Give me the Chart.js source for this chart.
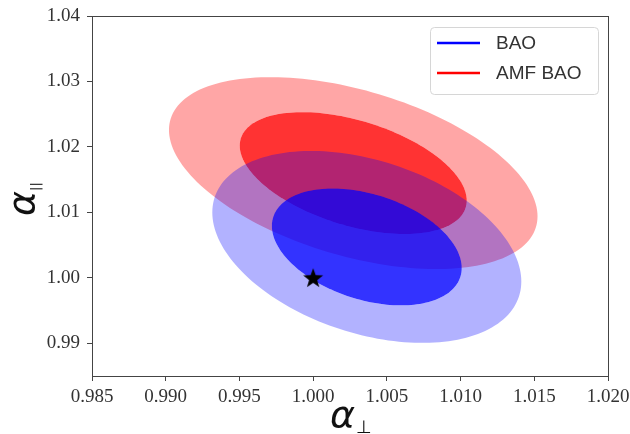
<!DOCTYPE html>
<html><head><meta charset="utf-8">
<script src="https://cdn.jsdelivr.net/npm/chart.js@4.4.1/dist/chart.umd.min.js"></script>
<style>html,body{margin:0;padding:0;background:#fff;}</style>
</head><body>
<canvas id="c" width="630" height="434"></canvas>
<script>
// ---- data ----
const seriesNames = ['BAO', 'AMF BAO'];
const seriesColors = ['#0000ff', '#ff0000'];
const seriesRGB = ['0,0,255', '255,0,0'];
const centerX = [1.00364, 1.00272];
const centerY = [1.00472, 1.01600];
const halfWidth1 = [0.00644, 0.00770];   // 1-sigma half extent in alpha_perp
const halfHeight1 = [0.00893, 0.00931];  // 1-sigma half extent in alpha_par
const halfWidth2 = [0.01048, 0.01250];   // 2-sigma
const halfHeight2 = [0.01466, 0.01466];
const correlation = [-0.36, -0.45];
const alphaOuter = [0.30, 0.35];
const alphaInner = [0.80, 0.80];
const fiducialX = [1.000];
const fiducialY = [1.000];
const xTicks = [0.985, 0.990, 0.995, 1.000, 1.005, 1.010, 1.015, 1.020];
const yTicks = [0.99, 1.00, 1.01, 1.02, 1.03, 1.04];

// star marker image
const star = document.createElement('canvas');
star.width = 22; star.height = 22;
(function(){
  const s = star.getContext('2d');
  s.beginPath();
  for (let i = 0; i < 10; i++) {
    const r = i % 2 ? 4.3 : 10.5;
    const a = -Math.PI / 2 + i * Math.PI / 5;
    const px = 11 + r * Math.cos(a), py = 11.8 + r * Math.sin(a);
    if (i === 0) s.moveTo(px, py); else s.lineTo(px, py);
  }
  s.closePath();
  s.fillStyle = '#000';
  s.fill();
})();

function ellipsePath(ctx, xs, ys, cx, cy, a, b, rho) {
  const n = 180;
  const k = Math.sqrt(1 - rho * rho);
  for (let i = 0; i <= n; i++) {
    const t = i / n * 2 * Math.PI;
    const x = cx + a * Math.cos(t);
    const y = cy + b * (rho * Math.cos(t) + k * Math.sin(t));
    const px = xs.getPixelForValue(x), py = ys.getPixelForValue(y);
    if (i === 0) ctx.moveTo(px, py); else ctx.lineTo(px, py);
  }
  ctx.closePath();
}

const contourPlugin = {
  id: 'contours',
  beforeDatasetsDraw(chart) {
    const ctx = chart.ctx, xs = chart.scales.x, ys = chart.scales.y, ca = chart.chartArea;
    ctx.save();
    ctx.beginPath();
    ctx.rect(ca.left, ca.top, ca.right - ca.left, ca.bottom - ca.top);
    ctx.clip();
    [1, 0].forEach(i => {
      ctx.beginPath();
      ellipsePath(ctx, xs, ys, centerX[i], centerY[i], halfWidth2[i], halfHeight2[i], correlation[i]);
      ellipsePath(ctx, xs, ys, centerX[i], centerY[i], halfWidth1[i], halfHeight1[i], correlation[i]);
      ctx.fillStyle = 'rgba(' + seriesRGB[i] + ',' + alphaOuter[i] + ')';
      ctx.fill('evenodd');
      ctx.beginPath();
      ellipsePath(ctx, xs, ys, centerX[i], centerY[i], halfWidth1[i], halfHeight1[i], correlation[i]);
      ctx.fillStyle = 'rgba(' + seriesRGB[i] + ',' + alphaInner[i] + ')';
      ctx.fill();
    });
    ctx.restore();
  },
  afterDraw(chart) {
    const ctx = chart.ctx, ca = chart.chartArea;
    ctx.save();
    // frame
    ctx.strokeStyle = '#444';
    ctx.lineWidth = 1;
    ctx.strokeRect(Math.round(ca.left) + 0.5, Math.round(ca.top) + 0.5,
      Math.round(ca.right - ca.left), Math.round(ca.bottom - ca.top));
    // legend
    const lx = 430.5, ly = 27.5, lw = 168, lh = 67, r = 4;
    ctx.beginPath();
    ctx.moveTo(lx + r, ly);
    ctx.arcTo(lx + lw, ly, lx + lw, ly + lh, r);
    ctx.arcTo(lx + lw, ly + lh, lx, ly + lh, r);
    ctx.arcTo(lx, ly + lh, lx, ly, r);
    ctx.arcTo(lx, ly, lx + lw, ly, r);
    ctx.closePath();
    ctx.fillStyle = 'rgba(255,255,255,0.8)';
    ctx.fill();
    ctx.strokeStyle = '#d6d6d6';
    ctx.stroke();
    const rowsY = [43, 73];
    seriesNames.forEach((name, i) => {
      ctx.beginPath();
      ctx.moveTo(437, rowsY[i]);
      ctx.lineTo(480, rowsY[i]);
      ctx.strokeStyle = seriesColors[i];
      ctx.lineWidth = 2.5;
      ctx.stroke();
      ctx.fillStyle = '#333';
      ctx.font = '19px "Liberation Sans", Arial, sans-serif';
      ctx.textAlign = 'left';
      ctx.textBaseline = 'middle';
      ctx.fillText(name, 496, rowsY[i] + 1);
    });
    // axis titles
    ctx.fillStyle = '#111';
    ctx.textBaseline = 'alphabetic';
    ctx.textAlign = 'left';
    ctx.font = 'italic 38px "DejaVu Sans"';
    ctx.fillText('\u03b1', 330, 427);
    ctx.font = '18px "DejaVu Sans"';
    ctx.fillText('\u22a5', 356, 433);
    ctx.translate(34, 216);
    ctx.rotate(-Math.PI / 2);
    ctx.font = 'italic 38px "DejaVu Sans"';
    ctx.fillText('\u03b1', 0, 0);
    ctx.font = '13px "DejaVu Sans"';
    ctx.fillText('||', 25, 6);
    ctx.restore();
  }
};

const tickFont = { family: '"Liberation Serif", "Times New Roman", serif', size: 19 };

new Chart(document.getElementById('c'), {
  type: 'scatter',
  data: {
    datasets: [{
      label: 'fiducial',
      data: fiducialX.map((x, i) => ({ x: x, y: fiducialY[i] })),
      pointStyle: star,
      pointRadius: 10,
      pointHoverRadius: 10
    }]
  },
  options: {
    responsive: false,
    animation: false,
    events: [],
    layout: { padding: { left: 0, top: 16, right: 22, bottom: 0 } },
    plugins: { legend: { display: false }, tooltip: { enabled: false } },
    scales: {
      x: {
        type: 'linear',
        min: 0.985, max: 1.020,
        afterBuildTicks: s => { s.ticks = xTicks.map(v => ({ value: v })); },
        afterFit: s => { s.height = 58; s.paddingLeft = 0; s.paddingRight = 0; },
        ticks: { font: tickFont, color: '#333', padding: 5, maxRotation: 0,
                 callback: v => v.toFixed(3) },
        grid: { drawOnChartArea: false, drawTicks: true, tickLength: 5, color: '#444' },
        border: { display: true, color: '#444' }
      },
      y: {
        type: 'linear',
        min: 0.985, max: 1.04,
        afterBuildTicks: s => { s.ticks = yTicks.map(v => ({ value: v })); },
        afterFit: s => { s.width = 92; s.paddingTop = 0; s.paddingBottom = 0; },
        ticks: { font: tickFont, color: '#333', padding: 7,
                 callback: v => v.toFixed(2) },
        grid: { drawOnChartArea: false, drawTicks: true, tickLength: 5, color: '#444' },
        border: { display: true, color: '#444' }
      }
    }
  },
  plugins: [contourPlugin]
});
</script>
</body></html>
